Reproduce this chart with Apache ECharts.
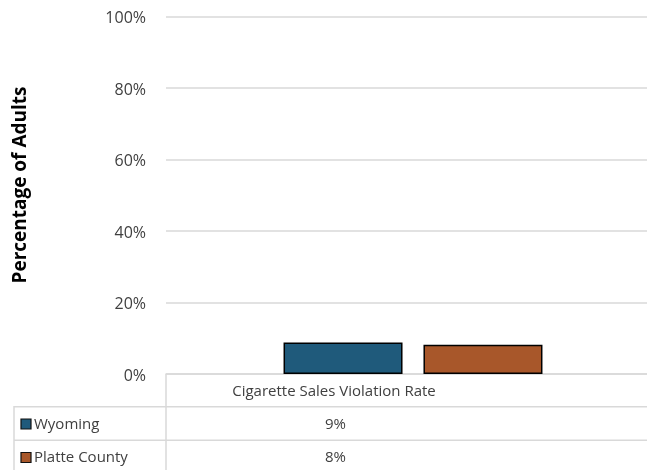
<!DOCTYPE html>
<html><head><meta charset="utf-8">
<script src="https://cdn.jsdelivr.net/npm/echarts@6/dist/echarts.min.js"></script>
<style>html,body{margin:0;padding:0;background:#fff}#c{width:647px;height:470px}</style>
</head><body><div id="c"></div>
<script>
const categories = ["Cigarette Sales Violation Rate"];
const seriesNames = ["Wyoming", "Platte County"];
const wyoming = [8.8];
const platte = [8.2];
const seriesColors = ["#1f5a7b", "#a8572a"];
const yTicks = [0, 20, 40, 60, 80, 100];

const chart = echarts.init(document.getElementById('c'));
const font = "'Open Sans', sans-serif";
const gridColor = "#d9d9d9";
const textColor = "#404040";

function buildGraphic() {
  const g = [];
  const line = (x1, y1, x2, y2) => g.push({type:'line', shape:{x1,y1,x2,y2}, style:{stroke:gridColor, lineWidth:1.5}, silent:true});
  line(14, 406.7, 647, 406.7);
  line(14, 440.3, 647, 440.3);
  line(14, 406, 14, 470);
  line(166, 374, 166, 470);
  const colX = 334;
  g.push({type:'text', x: colX, y: 392, style:{text: categories[0], font: "15px " + font, fill: textColor, align:'center', verticalAlign:'middle'}});
  const rowsY = [424.5, 458];
  const vals = [wyoming, platte];
  seriesNames.forEach((n, i) => {
    g.push({type:'rect', shape:{x:21, y:rowsY[i]-5.5, width:10, height:10}, style:{fill:seriesColors[i], stroke:'#111', lineWidth:1.2}});
    g.push({type:'text', x:34, y:rowsY[i], style:{text:n, font:"15px " + font, fill:textColor, align:'left', verticalAlign:'middle'}});
    g.push({type:'text', x:335.5, y:rowsY[i], style:{text:Math.round(vals[i][0]) + '%', font:"15px " + font, fill:textColor, align:'center', verticalAlign:'middle'}});
  });
  g.push({type:'text', x:21, y:185, rotation:Math.PI/2, style:{text:'Percentage of Adults', font:"bold 19px " + font, fill:'#000', align:'center', verticalAlign:'middle'}});
  return g;
}

chart.setOption({
  animation: false,
  grid: {left:166, top:16.7, width:494, height:357.3, containLabel:false, outerBoundsMode:'none'},
  xAxis: {
    type:'category', data: categories,
    axisLine:{show:true, lineStyle:{color:gridColor, width:1.5}},
    axisTick:{show:false}, axisLabel:{show:false}
  },
  yAxis: {
    type:'value', min:0, max:100, interval:20,
    axisLabel:{formatter:'{value}%', color:textColor, fontFamily:font, fontSize:16, margin:20, verticalAlign:'top', lineHeight:4},
    splitLine:{lineStyle:{color:gridColor, width:1.5}},
    axisLine:{show:false}, axisTick:{show:false}
  },
  series: [
    {name:seriesNames[0], type:'bar', data:wyoming, barWidth:119, barGap:'17.6%',
     itemStyle:{color:seriesColors[0], borderColor:'#000', borderWidth:1.5}},
    {name:seriesNames[1], type:'bar', data:platte, barWidth:119,
     itemStyle:{color:seriesColors[1], borderColor:'#000', borderWidth:1.5}}
  ],
  graphic: buildGraphic()
});
</script></body></html>
